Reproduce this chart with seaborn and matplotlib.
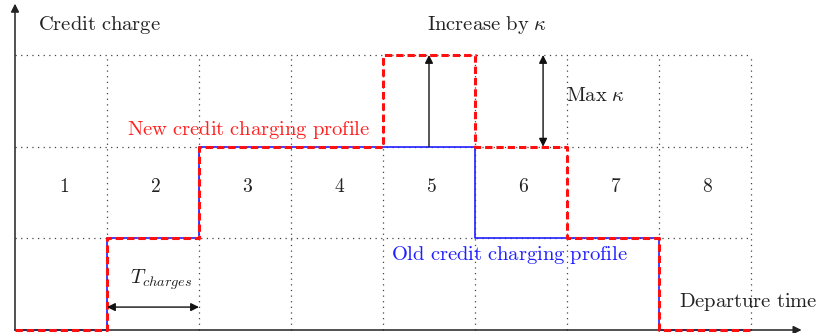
import numpy as np
import pandas as pd
import seaborn as sns
import matplotlib
matplotlib.use("Agg")
import matplotlib.pyplot as plt

# Time slots and credit charge levels (step profiles, last value repeated to close the step)
slots = [0, 1, 2, 3, 4, 5, 6, 7, 8]
old_profile = [0, 1, 2, 2, 2, 1, 1, 0, 0]
new_profile = [0, 1, 2, 2, 3, 2, 1, 0, 0]
slot_labels = ["1", "2", "3", "4", "5", "6", "7", "8"]
n_levels = 3

sns.set_theme(style="white")
plt.rcParams["mathtext.fontset"] = "cm"
plt.rcParams["font.family"] = ["DejaVu Serif"]

fig = plt.figure(figsize=(8.16, 3.33), dpi=100)
ax = fig.add_axes([0, 0, 1, 1])
ax.axis("off")

# Dotted grid of time slots x credit levels
grid_style = dict(color="#444444", lw=0.9, linestyle=(0, (1, 3.5)), zorder=1)
for lv in range(1, n_levels + 1):
    ax.plot([0, len(slot_labels)], [lv, lv], **grid_style)
for s in range(1, len(slot_labels) + 1):
    ax.plot([s, s], [0, n_levels], **grid_style)

# Axes with arrow heads
ax.annotate("", xy=(0, 3.56), xytext=(0, 0),
            arrowprops=dict(arrowstyle="-|>", color="#222222", lw=1.1,
                            mutation_scale=12, shrinkA=0, shrinkB=0), zorder=4)
ax.annotate("", xy=(8.55, 0), xytext=(0, 0),
            arrowprops=dict(arrowstyle="-|>", color="#222222", lw=1.1,
                            mutation_scale=12, shrinkA=0, shrinkB=0), zorder=4)

df = pd.DataFrame({"slot": slots, "old": old_profile, "new": new_profile})
sns.lineplot(data=df, x="slot", y="old", ax=ax, color="#2020ff", lw=1.2,
             drawstyle="steps-post", estimator=None, zorder=3)
sns.lineplot(data=df, x="slot", y="new", ax=ax, color="#ff1010", lw=2.2,
             linestyle=(0, (2.4, 1.3)), drawstyle="steps-post", estimator=None, zorder=5)
ax.set_xlim(-15 / 92, (816 - 15) / 92)
ax.set_ylim(-3 / 91.67, 330 / 91.67)

# Slot numbers
for i, lab in enumerate(slot_labels):
    ax.text(i + 0.53, 1.56, rf"$\mathrm{{{lab}}}$", ha="center", va="center", fontsize=14, color="#222222")

fs = 14.8
ax.text(0.25, 3.33, r"$\mathrm{Credit\ charge}$", ha="left", va="center", fontsize=fs, color="#222222")
ax.text(5.13, 3.33, r"$\mathrm{Increase\ by}\ \kappa$", ha="center", va="center", fontsize=fs, color="#222222")
ax.text(5.99, 2.56, r"$\mathrm{Max}\ \kappa$", ha="left", va="center", fontsize=fs, color="#222222")
ax.text(2.54, 2.18, r"$\mathrm{New\ credit\ charging\ profile}$", ha="center", va="center",
        fontsize=fs, color="#ff2020")
ax.text(5.38, 0.82, r"$\mathrm{Old\ credit\ charging\ profile}$", ha="center", va="center",
        fontsize=fs, color="#2020ff")
ax.text(1.59, 0.55, r"$T_{charges}$", ha="center", va="center", fontsize=fs, color="#222222")
ax.text(7.97, 0.31, r"$\mathrm{Departure\ time}$", ha="center", va="center", fontsize=fs, color="#222222")

# Increase arrow in slot 5
ax.annotate("", xy=(4.5, 3), xytext=(4.5, 2),
            arrowprops=dict(arrowstyle="-|>", color="#111111", lw=1.0,
                            mutation_scale=12, shrinkA=0, shrinkB=0), zorder=6)
# Max kappa double arrow
ax.annotate("", xy=(5.74, 3), xytext=(5.74, 2),
            arrowprops=dict(arrowstyle="<|-|>", color="#111111", lw=1.0,
                            mutation_scale=12, shrinkA=0, shrinkB=0), zorder=6)
# Slot duration double arrow
ax.annotate("", xy=(2, 0.25), xytext=(1, 0.25),
            arrowprops=dict(arrowstyle="<|-|>", color="#111111", lw=1.0,
                            mutation_scale=12, shrinkA=0, shrinkB=0), zorder=6)

fig.savefig("out.png", dpi=100)
